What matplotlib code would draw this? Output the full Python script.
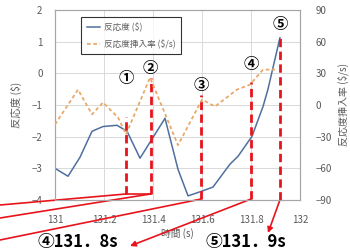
import matplotlib
matplotlib.use("Agg")
import matplotlib.pyplot as plt

plt.rcParams['font.family'] = ['Noto Sans CJK JP', 'DejaVu Sans']

# Reactivity ($)
t_react = [131.0, 131.053, 131.102, 131.151, 131.196, 131.253, 131.294, 131.347,
           131.449, 131.502, 131.543, 131.6, 131.645, 131.714, 131.747, 131.804,
           131.849, 131.869, 131.918]
react = [-3.0, -3.25, -2.65, -1.83, -1.68, -1.64, -1.83, -2.68,
         -1.42, -3.03, -3.87, -3.72, -3.59, -2.87, -2.62, -1.99,
         -1.05, -0.51, 1.12]

# Reactivity insertion rate ($/s)
t_rate = [131.0, 131.094, 131.151, 131.196, 131.257, 131.29, 131.388, 131.502,
          131.6, 131.653, 131.743, 131.796, 131.849, 131.898]
rate = [-18.4, 14.6, -8.9, 2.4, -11.7, -27.8, 26.0, -38.1,
        5.2, -1.4, 14.6, 19.3, 33.5, 33.5]

# Marked events
ev_labels = ['①', '②', '③', '④', '⑤']
ev_times = [131.29, 131.39, 131.596, 131.80, 131.918]
ev_tops = [-1.39, -0.14, -0.67, -0.26, 1.12]
ev_bottoms = [-3.81, -3.81, -3.97, -3.97, -4.0]
ev_label_y = [-0.14, 0.18, -0.36, 0.30, 1.56]

left_ticks = [2, 1, 0, -1, -2, -3, -4]
right_ticks = [90, 60, 30, 0, -30, -60, -90]
x_ticks = [131, 131.2, 131.4, 131.6, 131.8, 132]
x_ticklabels = ['131', '131.2', '131.4', '131.6', '131.8', '132']

fig = plt.figure(figsize=(3.5, 2.52), dpi=100)
ax = fig.add_axes([55/350, 1-200/252, 245/350, 190/252])
ax2 = ax.twinx()

blue = '#4f6fa0'
orange = '#e8aa6a'
red = '#e8141c'
gray_txt = '#595959'

l1, = ax.plot(t_react, react, color=blue, lw=1.1, label='反応度 ($)', zorder=3)
l2, = ax2.plot(t_rate, rate, color=orange, lw=1.3, ls=(0, (2, 1.5)), label='反応度挿入率 ($/s)', zorder=3)

ax.set_xlim(131, 132)
ax.set_ylim(-4, 2)
ax2.set_ylim(-90, 90)
ax.set_xticks(x_ticks)
ax.set_xticklabels(x_ticklabels)
ax.set_yticks(left_ticks)
ax2.set_yticks(right_ticks)
ax.grid(True, color='#d9d9d9', lw=0.7)
ax.set_axisbelow(True)
for a in (ax, ax2):
    a.tick_params(length=0, labelsize=7, colors=gray_txt)
    for s in a.spines.values():
        s.set_color('#a6a6a6')
        s.set_linewidth(0.8)
ax.tick_params(axis='y', pad=9)
ax.tick_params(axis='x', pad=11)
ax2.tick_params(axis='y', pad=11)

ax.set_xlabel('時間 (s)', fontsize=7, color=gray_txt, labelpad=2)
ax.set_ylabel('反応度 ($)', fontsize=7.5, color=gray_txt, labelpad=7)
ax2.set_ylabel('反応度挿入率 ($/s)', fontsize=7.2, color=gray_txt, labelpad=4)

leg = ax.legend(handles=[l1, l2], loc='upper left', bbox_to_anchor=(0.09, 0.985),
                fontsize=6.2, frameon=True, fancybox=False, handlelength=1.6,
                borderpad=0.6, labelspacing=0.9, handletextpad=0.4)
leg.get_frame().set_edgecolor('#000000')
leg.get_frame().set_linewidth(0.8)
for txt in leg.get_texts():
    txt.set_color(gray_txt)

# Event dashed lines and labels
for lab, t, top, bot, ly in zip(ev_labels, ev_times, ev_tops, ev_bottoms, ev_label_y):
    ax.plot([t, t], [bot, top], color=red, lw=2.0, ls=(0, (3, 1.6)), zorder=4, clip_on=False)
    ax.text(t, ly, lab, fontsize=11, fontweight='bold', ha='center', va='center', color='black', zorder=5)

# connecting lines from events to outside
ax.plot([ev_times[0], ev_times[1]], [ev_bottoms[0], ev_bottoms[1]], color=red, lw=1.2, zorder=4)
conn = [(0, (0, 252 - 205)), (1, (0, 252 - 218)), (2, (0, 252 - 240))]
for i, (xf, yf) in conn:
    ax.annotate('', xy=(xf, yf), xycoords='figure pixels',
                xytext=(ev_times[i], ev_bottoms[i]), textcoords='data',
                arrowprops=dict(arrowstyle='-', color=red, lw=1.2, shrinkA=0, shrinkB=0),
                annotation_clip=False)
ax.annotate('', xy=(130, 252 - 246), xycoords='figure pixels',
            xytext=(ev_times[3], ev_bottoms[3]), textcoords='data',
            arrowprops=dict(arrowstyle='-|>', color=red, lw=1.2, shrinkA=0, shrinkB=0,
                            mutation_scale=8),
            annotation_clip=False)
ax.annotate('', xy=(268, 252 - 233), xycoords='figure pixels',
            xytext=(ev_times[4], ev_bottoms[4]), textcoords='data',
            arrowprops=dict(arrowstyle='-|>', color=red, lw=1.2, shrinkA=0, shrinkB=0,
                            mutation_scale=8),
            annotation_clip=False)

fig.text(37/350, 0.5/252, '④131．8s', fontsize=12, fontweight='bold',
         ha='left', va='bottom', color='black')
fig.text(205/350, 0.5/252, '⑤131．9s', fontsize=12, fontweight='bold',
         ha='left', va='bottom', color='black')

fig.savefig('out.png', dpi=100)
